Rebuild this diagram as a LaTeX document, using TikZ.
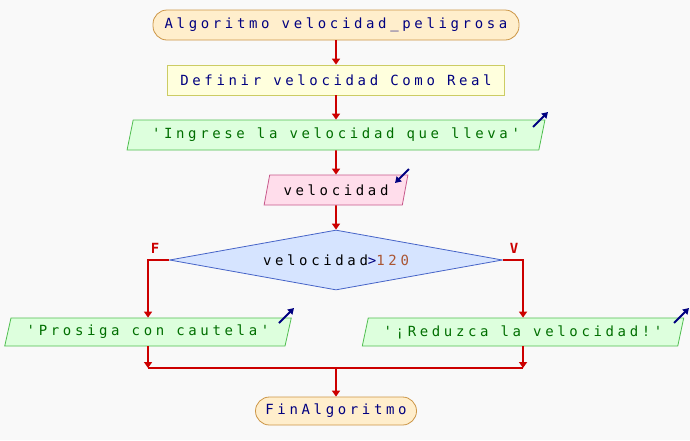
\documentclass[tikz,border=0pt]{standalone}
\usepackage{fontspec}
\newfontfamily\psefont{DejaVu Sans Mono}[LetterSpace=26]
\usetikzlibrary{shapes.geometric,arrows.meta}
\definecolor{bgc}{RGB}{249,249,249}
\definecolor{kw}{RGB}{0,0,128}
\definecolor{strc}{RGB}{0,110,0}
\definecolor{numc}{RGB}{170,85,50}
\definecolor{flowc}{RGB}{204,0,0}
\definecolor{termf}{RGB}{255,238,204}
\definecolor{termd}{RGB}{204,150,70}
\definecolor{deff}{RGB}{255,255,221}
\definecolor{defd}{RGB}{204,204,100}
\definecolor{outf}{RGB}{221,255,221}
\definecolor{outd}{RGB}{80,190,80}
\definecolor{inf}{RGB}{255,221,235}
\definecolor{ind}{RGB}{200,90,140}
\definecolor{diaf}{RGB}{214,228,255}
\definecolor{diad}{RGB}{70,100,200}
\tikzset{
  base/.style={font=\psefont\fontsize{14}{16}\selectfont, inner sep=0pt, line width=0.8pt},
  term/.style={base, rectangle, rounded corners=14pt, fill=termf, draw=termd, text=kw},
  defbox/.style={base, rectangle, fill=deff, draw=defd, text=kw},
  outbox/.style={base, trapezium, trapezium left angle=68, trapezium right angle=112, trapezium stretches=true, fill=outf, draw=outd, text=strc},
  inbox/.style={base, trapezium, trapezium left angle=68, trapezium right angle=112, trapezium stretches=true, fill=inf, draw=ind, text=black},
  decis/.style={base, diamond, shape aspect=5.55, fill=diaf, draw=diad},
  flow/.style={draw=flowc, line width=1.6pt, -{Triangle[length=6pt,width=8pt]}},
  flowline/.style={draw=flowc, line width=1.6pt},
  ioarrow/.style={draw=kw, line width=1.8pt, -{Triangle[length=6pt,width=7pt]}},
  lbl/.style={font=\psefont\fontsize{14}{16}\selectfont\bfseries, text=flowc, inner sep=0pt}
}
\begin{document}
\begin{tikzpicture}[x=1pt,y=-1pt]
\fill[bgc] (0,0) rectangle (690,440);
\useasboundingbox (0,0) rectangle (690,440);

\node[term, minimum width=366pt, minimum height=30pt] (start) at (336,25) {Algoritmo velocidad\_peligrosa};
\node[defbox, minimum width=337pt, minimum height=30pt] (def) at (336,80) {Definir velocidad Como Real};
\node[outbox, minimum width=420pt, minimum height=30pt] (out1) at (336,135) {'Ingrese la velocidad que lleva'};
\node[inbox, minimum width=144pt, minimum height=30pt] (in1) at (336,190) {velocidad};
\node[decis, minimum width=333pt, minimum height=60pt] (dia) at (336,260) {\textcolor{black}{velocidad}\textcolor{kw}{>}\textcolor{numc}{120}};
\node[outbox, minimum width=287pt, minimum height=28pt] (out2) at (148,332) {'Prosiga con cautela'};
\node[outbox, minimum width=322pt, minimum height=28pt] (out3) at (523,332) {'¡Reduzca la velocidad!'};
\node[term, minimum width=161pt, minimum height=28pt] (fin) at (336,411) {FinAlgoritmo};

\node[lbl] (lf) at (155,248) {F};
\node[lbl] (lv) at (514,248) {V};

% io icons
\coordinate (o1a) at (533,127); \coordinate (o1b) at (548,112);
\draw[ioarrow] (o1a) -- (o1b);
\coordinate (i1a) at (409,169); \coordinate (i1b) at (395,183);
\draw[ioarrow] (i1a) -- (i1b);
\coordinate (o2a) at (279,323); \coordinate (o2b) at (294,308);
\draw[ioarrow] (o2a) -- (o2b);
\coordinate (o3a) at (674,323); \coordinate (o3b) at (689,308);
\draw[ioarrow] (o3a) -- (o3b);

% connectors
\draw[flow] (start) -- (def);
\draw[flow] (def) -- (out1);
\draw[flow] (out1) -- (in1);
\draw[flow] (in1) -- (dia);
\draw[flow] (dia.west) -| (out2.north);
\draw[flow] (dia.east) -| (out3.north);
\coordinate (m) at (336,368);
\draw[flow] (out2.south) -- (out2.south |- m);
\draw[flow] (out3.south) -- (out3.south |- m);
\draw[flowline] (out2.south |- m) -- (out3.south |- m);
\draw[flow] (m) -- (fin);
\end{tikzpicture}
\end{document}
